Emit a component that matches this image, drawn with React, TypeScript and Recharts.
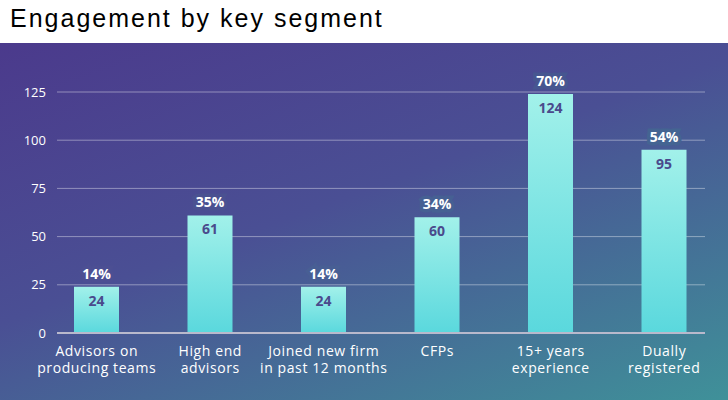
import React from 'react';
import { BarChart, Bar, XAxis, YAxis, CartesianGrid, LabelList } from 'recharts';

// values
const segments = [
  'Advisors on|producing teams',
  'High end|advisors',
  'Joined new firm|in past 12 months',
  'CFPs',
  '15+ years|experience',
  'Dually|registered',
];
const counts = [24, 61, 24, 60, 124, 95];
const shares = [14, 35, 14, 34, 70, 54];
const yTicks = [0, 25, 50, 75, 100, 125];

const chartData = segments.map((s, i) => ({ segment: s, count: counts[i], share: shares[i] }));

const W = 728;
const H = 400;
const TOP = 43;
const FONT = '"Open Sans", "Noto Sans", sans-serif';

// background corners (TL, TR, BL, BR)
const corners = [
  [75, 58, 140],
  [69, 89, 144],
  [79, 79, 150],
  [63, 145, 153],
];

function bgAt(x: number, y: number) {
  const u = Math.min(1, Math.max(0, x / W));
  const v = Math.min(1, Math.max(0, y / (H - TOP)));
  const c = [0, 1, 2].map((k) => {
    const top = corners[0][k] * (1 - u) + corners[1][k] * u;
    const bot = corners[2][k] * (1 - u) + corners[3][k] * u;
    return Math.round(top * (1 - v) + bot * v);
  });
  return `rgb(${c[0]},${c[1]},${c[2]})`;
}

function SegmentTick(props: any) {
  const { x, y, payload } = props;
  const lines = String(payload.value).split('|');
  return (
    <text
      x={x}
      y={y}
      textAnchor="middle"
      fill="#ffffff"
      fontSize={14}
      letterSpacing={0.6}
      fontFamily={FONT}
    >
      {lines.map((l, i) => (
        <tspan key={i} x={x} dy={i === 0 ? 15 : 17}>
          {l}
        </tspan>
      ))}
    </text>
  );
}

function ShareLabel(props: any) {
  const { x, y, width, value } = props;
  const cx = x + width / 2;
  const common = {
    x: cx,
    y: y - 8,
    textAnchor: 'middle' as const,
    fontSize: 14,
    fontWeight: 700,
    fontFamily: FONT,
  };
  return (
    <g>
      {/* masks the gridline behind the label */}
      <text {...common} fill={bgAt(cx, y - 13)} stroke={bgAt(cx, y - 13)} strokeWidth={7}>
        {value}%
      </text>
      <text {...common} fill="#ffffff">
        {value}%
      </text>
    </g>
  );
}

function CountLabel(props: any) {
  const { x, y, width, value } = props;
  return (
    <text
      x={x + width / 2}
      y={y + 19}
      textAnchor="middle"
      fill="#4a4a8c"
      fontSize={14}
      fontWeight={700}
      fontFamily={FONT}
    >
      {value}
    </text>
  );
}

export default function App() {
  return (
    <div style={{ position: 'fixed', left: 0, top: 0, width: W, height: H, background: '#ffffff' }}>
      <div
        style={{
          position: 'absolute',
          left: 10,
          top: 4,
          fontFamily: '"Liberation Sans", Arial, sans-serif',
          fontSize: 25,
          letterSpacing: 2,
          color: '#000000',
          whiteSpace: 'nowrap',
        }}
      >
        Engagement by key segment
      </div>
      <div
        style={{
          position: 'absolute',
          left: 0,
          top: TOP,
          width: W,
          height: H - TOP,
          background: 'linear-gradient(160deg, #4b3a8c 0%, #4a4f94 45%, #3f9199 100%)',
        }}
      >
        <BarChart
          width={W}
          height={H - TOP}
          data={chartData}
          margin={{ top: 49, right: 23, left: 0, bottom: 37 }}
        >
          <defs>
            <linearGradient id="barFill" x1="0" y1="0" x2="0" y2="1">
              <stop offset="0%" stopColor="#a2f1ea" />
              <stop offset="100%" stopColor="#5ad8dd" />
            </linearGradient>
          </defs>
          <CartesianGrid vertical={false} stroke="rgba(255,255,255,0.4)" />
          <XAxis
            dataKey="segment"
            tick={<SegmentTick />}
            tickLine={false}
            axisLine={{ stroke: '#b9b9cc', strokeWidth: 2 }}
            padding={{ left: -17, right: -16 }}
            interval={0}
            height={30}
          />
          <YAxis
            domain={[0, 125]}
            ticks={yTicks}
            tick={{ fill: '#ffffff', fontSize: 13, fontFamily: FONT }}
            tickLine={false}
            tickSize={0}
            tickMargin={11}
            axisLine={false}
            width={57}
          />
          <Bar dataKey="count" fill="url(#barFill)" barSize={45} isAnimationActive={false}>
            <LabelList dataKey="share" content={<ShareLabel />} />
            <LabelList dataKey="count" content={<CountLabel />} />
          </Bar>
        </BarChart>
      </div>
    </div>
  );
}
